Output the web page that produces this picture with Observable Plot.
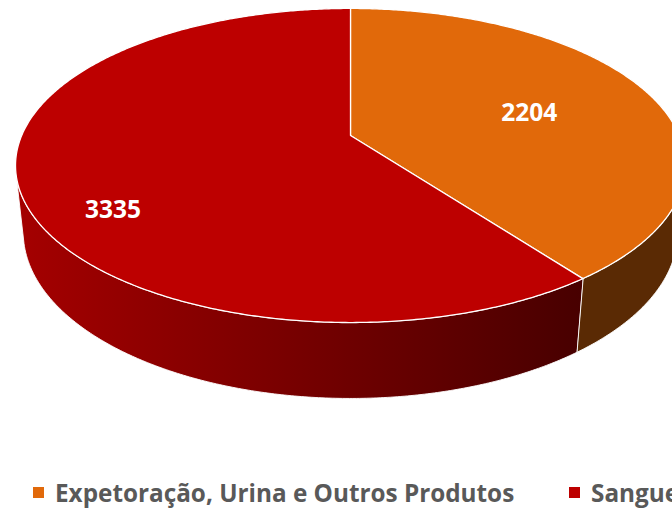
<!DOCTYPE html>
<html>
<head>
<meta charset="utf-8">
<script src="https://cdn.jsdelivr.net/npm/d3@7"></script>
<script src="https://cdn.jsdelivr.net/npm/@observablehq/plot@0.6"></script>
<style>
  html, body { margin: 0; padding: 0; background: #fff; overflow: hidden; width: 672px; height: 512px; }
  #legend { position: absolute; left: 0; top: 476px; width: 672px; white-space: nowrap;
    font-family: "Open Sans", sans-serif; font-weight: 700; font-size: 24.3px; color: #595959; }
  .item { position: absolute; top: 0; display: flex; align-items: center; }
  .sw { width: 11px; height: 11px; margin-right: 11px; }
</style>
</head>
<body>
<div id="chart"></div>
<div id="legend"></div>
<script>
// ---- data ----
const categories = ["Expetoração, Urina e Outros Produtos", "Sangue"];
const values = [2204, 3335];
const topColors = ["#E1690A", "#BD0000"];
const sideColors = ["#5A2A04", "url(#redSide)"];

// ---- 3D projection layout ----
const cx = 350, cy = 135;
const elev = 27.4 * Math.PI / 180;
const s = Math.sin(elev), c = Math.cos(elev);
const L = 4.65, F = 1529, H = 0.231;
function proj(a, r, Y) {
  const rad = a * Math.PI / 180;
  const X = r * Math.sin(rad), Z = -r * Math.cos(rad);
  const depth = L - (Y * s + Z * c);
  return { x: cx + F * X / depth, y: cy - F * (Y * c - Z * s) / depth };
}
const total = d3.sum(values);
let acc = 0;
const slices = values.map((v, i) => {
  const a0 = acc / total * 360;
  acc += v;
  const a1 = acc / total * 360;
  return { i, a0, a1, v };
});
const step = 0.5;
function arcAngles(a0, a1) {
  const out = [];
  const n = Math.max(2, Math.ceil(Math.abs(a1 - a0) / step));
  for (let k = 0; k <= n; k++) out.push(a0 + (a1 - a0) * k / n);
  return out;
}
// visible side range: -1 - L*c*cos(a) > 0
const vis = Math.acos(-1 / (L * c)) * 180 / Math.PI;
const visLo = vis, visHi = 360 - vis;

const topPolys = slices.map(sl => {
  const pts = [proj(0, 0, 0), ...arcAngles(sl.a0, sl.a1).map(a => proj(a, 1, 0))];
  return pts.map(p => ({ ...p, k: sl.i }));
});
const sidePolys = slices.map(sl => {
  const lo = Math.max(sl.a0, visLo), hi = Math.min(sl.a1, visHi);
  if (hi <= lo) return [];
  const angs = arcAngles(lo, hi);
  const pts = [...angs.map(a => proj(a, 1, 0)), ...angs.slice().reverse().map(a => proj(a, 1, -H))];
  return pts.map(p => ({ ...p, k: sl.i }));
});
// label placement tweaks (layout)
const labelAdj = [{ da: 3, r: 0.58 }, { da: -16, r: 0.8 }];
const labels = slices.map(sl => {
  const p = proj((sl.a0 + sl.a1) / 2 + labelAdj[sl.i].da, labelAdj[sl.i].r, 0);
  return { x: p.x, y: p.y, text: String(sl.v) };
});

const marks = [];
sidePolys.forEach((poly, i) => {
  if (poly.length) marks.push(Plot.line(poly, { x: "x", y: "y", curve: "linear-closed", fill: sideColors[i], stroke: "white", strokeWidth: 1, strokeOpacity: 0.9 }));
});
topPolys.forEach((poly, i) => {
  marks.push(Plot.line(poly, { x: "x", y: "y", curve: "linear-closed", fill: topColors[i], stroke: "white", strokeWidth: 1.3 }));
});
marks.push(Plot.text(labels, { x: "x", y: "y", text: "text", fill: "white", fontSize: 24.5, fontWeight: 700, fontFamily: "Open Sans", textAnchor: "middle" }));

const plot = Plot.plot({
  width: 672, height: 476,
  margin: 0,
  x: { domain: [0, 672], range: [0, 672], axis: null },
  y: { domain: [0, 476], range: [0, 476], axis: null },
  style: { overflow: "hidden", background: "white" },
  marks
});
const svg = d3.select(plot);
const defs = svg.insert("defs", ":first-child");
const g = defs.append("linearGradient").attr("id", "redSide").attr("gradientUnits", "userSpaceOnUse")
  .attr("x1", 20).attr("x2", 580).attr("y1", 0).attr("y2", 0);
g.append("stop").attr("offset", "0%").attr("stop-color", "#A40000");
g.append("stop").attr("offset", "50%").attr("stop-color", "#760000");
g.append("stop").attr("offset", "100%").attr("stop-color", "#480000");
document.getElementById("chart").appendChild(plot);

// legend
const legendX = [33, 569];
const leg = d3.select("#legend");
categories.forEach((cat, i) => {
  const it = leg.append("div").attr("class", "item").style("left", legendX[i] + "px");
  it.append("div").attr("class", "sw").style("background", topColors[i]);
  it.append("span").text(cat);
});
</script>
</body>
</html>
